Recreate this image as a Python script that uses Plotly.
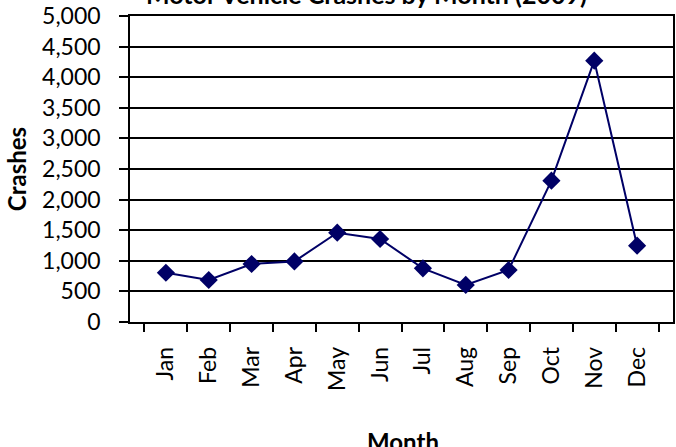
import plotly.graph_objects as go

months = ["Jan", "Feb", "Mar", "Apr", "May", "Jun", "Jul", "Aug", "Sep", "Oct", "Nov", "Dec"]
crashes = [805, 686, 948, 990, 1459, 1356, 877, 605, 850, 2309, 4270, 1247]
y_ticks = list(range(0, 5001, 500))
y_tick_labels = [f"{v:,}" for v in y_ticks]

FONT = "Lato, Carlito, Calibri, sans-serif"
NAVY = "#000066"

fig = go.Figure(go.Scatter(
    x=months, y=crashes, mode="lines+markers",
    line=dict(color=NAVY, width=2),
    marker=dict(symbol="diamond", size=14, color=NAVY),
    cliponaxis=False,
))

fig.update_layout(
    width=676, height=447,
    margin=dict(l=130, r=3, t=16, b=125, autoexpand=False),
    paper_bgcolor="white", plot_bgcolor="white",
    showlegend=False,
    font=dict(family=FONT, size=23, color="black"),
    title=dict(text="<b>Motor Vehicle Crashes by Month (2009)</b>",
               x=0.542, xanchor="center", xref="container",
               y=0.99, yanchor="bottom", yref="container",
               font=dict(family=FONT, size=25, color="black")),
    annotations=[dict(text="<b>Month</b>", xref="paper", yref="paper",
                      x=0.503, y=-0.39, xanchor="center", yanchor="middle",
                      showarrow=False, font=dict(family=FONT, size=24))],
)

fig.update_xaxes(
    type="category", tickangle=-90, tickson="boundaries", automargin=False,
    ticks="outside", ticklen=8, tickcolor="black", tickwidth=1.5,
    showline=True, linecolor="black", linewidth=1.5, mirror=True,
    showgrid=False, ticklabelstandoff=14,
)
fig.update_yaxes(
    range=[0, 5000], tickvals=y_ticks, ticktext=y_tick_labels, automargin=False,
    ticks="outside", ticklen=9, tickcolor="black", tickwidth=1.5,
    showline=True, linecolor="black", linewidth=1.5, mirror=True,
    showgrid=True, gridcolor="black", gridwidth=1.5, zeroline=False,
    ticklabelstandoff=14,
    title=dict(text="<b>Crashes</b>", font=dict(family=FONT, size=24), standoff=9),
)

fig.write_html("out.html", config={"displayModeBar": False},
               post_script="document.body.style.margin='0';")
